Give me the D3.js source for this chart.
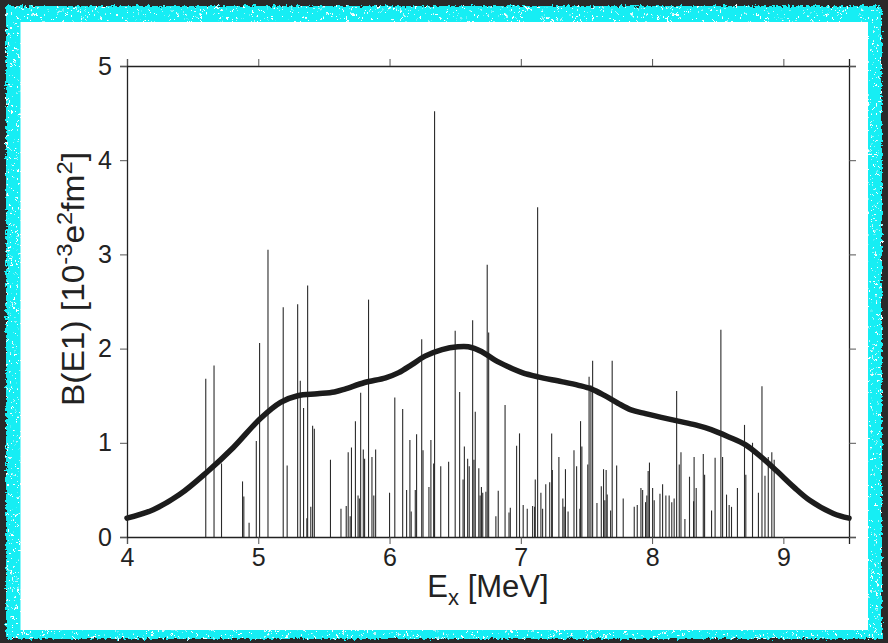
<!DOCTYPE html>
<html>
<head>
<meta charset="utf-8">
<script src="https://cdn.jsdelivr.net/npm/d3@7"></script>
<style>
  html, body { margin: 0; padding: 0; background: #2a2a2a; }
  svg { display: block; }
  text { font-family: "Liberation Sans", Arial, Helvetica, sans-serif; fill: #222; }
</style>
</head>
<body>
<svg id="chart" width="888" height="643"></svg>
<script>
// Transition energies (MeV) and reduced E1 strengths (10^-3 e^2 fm^2)
const energies = [
  4.600, 4.663, 4.720, 4.880, 4.890, 4.930, 4.985, 5.010, 5.074, 5.190,
  5.220, 5.300, 5.320, 5.345, 5.370, 5.376, 5.400, 5.414, 5.427, 5.550,
  5.630, 5.670, 5.685, 5.700, 5.710, 5.740, 5.760, 5.770, 5.780, 5.800,
  5.810, 5.840, 5.866, 5.880, 5.894, 6.000, 6.040, 6.100, 6.130, 6.155,
  6.165, 6.196, 6.206, 6.245, 6.255, 6.300, 6.315, 6.336, 6.343, 6.390,
  6.450, 6.500, 6.534, 6.560, 6.570, 6.595, 6.607, 6.633, 6.643, 6.653,
  6.680, 6.690, 6.700, 6.710, 6.734, 6.744, 6.755, 6.810, 6.828, 6.880,
  6.910, 6.920, 6.968, 6.990, 7.018, 7.049, 7.090, 7.105, 7.110, 7.128,
  7.153, 7.166, 7.190, 7.220, 7.235, 7.240, 7.290, 7.320, 7.330, 7.340,
  7.360, 7.405, 7.425, 7.450, 7.455, 7.465, 7.510, 7.520, 7.534, 7.547,
  7.580, 7.613, 7.630, 7.640, 7.650, 7.658, 7.684, 7.696, 7.730, 7.780,
  7.864, 7.887, 7.915, 7.928, 7.950, 7.960, 7.970, 7.980, 8.004, 8.016,
  8.060, 8.080, 8.105, 8.130, 8.150, 8.168, 8.187, 8.207, 8.220, 8.250,
  8.285, 8.316, 8.320, 8.336, 8.390, 8.400, 8.453, 8.480, 8.524, 8.537,
  8.567, 8.587, 8.605, 8.650, 8.704, 8.714, 8.765, 8.810, 8.837, 8.860,
  8.885, 8.912, 8.930
];
const strengths = [
  1.68, 1.82, 0.78, 0.59, 0.43, 0.15, 1.02, 2.06, 3.05, 2.44,
  0.76, 2.47, 1.66, 1.37, 0.20, 2.67, 0.32, 1.18, 1.15, 0.82,
  0.30, 0.33, 0.90, 0.22, 0.95, 1.23, 0.44, 0.41, 1.53, 0.93,
  0.83, 2.52, 0.85, 0.44, 0.93, 0.47, 1.48, 1.36, 0.50, 1.03,
  0.27, 0.50, 1.09, 2.10, 0.92, 0.53, 1.03, 0.78, 4.52, 0.75,
  0.80, 2.19, 1.54, 0.61, 0.96, 0.83, 0.75, 2.30, 0.82, 1.33,
  0.73, 0.44, 0.53, 0.47, 0.48, 2.89, 2.17, 0.22, 0.49, 1.40,
  0.26, 0.31, 0.97, 1.10, 0.34, 0.30, 0.33, 0.32, 0.61, 3.50,
  0.47, 0.30, 0.56, 0.58, 1.10, 0.71, 0.85, 0.41, 0.32, 0.72,
  0.27, 0.92, 0.75, 0.30, 1.23, 0.96, 0.77, 1.70, 1.61, 1.87,
  0.36, 0.54, 0.72, 0.39, 0.71, 0.45, 0.28, 1.87, 0.76, 0.41,
  0.32, 0.34, 0.52, 0.50, 0.37, 0.44, 0.70, 0.79, 0.52, 0.39,
  0.46, 0.56, 0.44, 0.44, 0.37, 0.41, 1.55, 0.77, 0.90, 0.19,
  0.64, 0.38, 0.85, 0.52, 0.88, 0.66, 0.28, 0.84, 2.20, 0.85,
  0.45, 0.34, 0.32, 0.52, 1.19, 0.66, 1.00, 0.47, 1.60, 0.65,
  0.85, 0.90, 0.82
];

// Smoothed strength envelope
const envE = [4.00, 4.20, 4.40, 4.61, 4.81, 5.01, 5.17, 5.30, 5.45, 5.58,
              5.66, 5.81, 5.97, 6.07, 6.17, 6.27, 6.40, 6.52, 6.60, 6.70,
              6.80, 6.90, 7.01, 7.13, 7.31, 7.44, 7.54, 7.64, 7.74, 7.84,
              7.95, 8.07, 8.20, 8.33, 8.45, 8.58, 8.71, 8.83, 8.95, 9.08,
              9.20, 9.38, 9.50];
const envB = [0.20, 0.29, 0.45, 0.69, 0.95, 1.25, 1.43, 1.50, 1.52, 1.54,
              1.57, 1.64, 1.69, 1.745, 1.83, 1.92, 1.99, 2.02, 2.02, 1.97,
              1.88, 1.81, 1.745, 1.70, 1.65, 1.61, 1.57, 1.50, 1.42, 1.35,
              1.31, 1.27, 1.23, 1.19, 1.14, 1.065, 0.98, 0.85, 0.70, 0.53,
              0.39, 0.25, 0.20];

const xTicks = [4, 5, 6, 7, 8, 9];
const yTicks = [0, 1, 2, 3, 4, 5];

const svg = d3.select("#chart");
const W = 888, H = 643;

// ---- frame: ragged cyan border on a dark ground ----
const defs = svg.append("defs");
const rough = defs.append("filter").attr("id", "rough")
  .attr("x", "-5%").attr("y", "-5%").attr("width", "110%").attr("height", "110%");
rough.append("feTurbulence").attr("type", "fractalNoise")
  .attr("baseFrequency", "0.3").attr("numOctaves", 2).attr("seed", 3).attr("result", "n");
rough.append("feDisplacementMap").attr("in", "SourceGraphic").attr("in2", "n")
  .attr("scale", 6).attr("xChannelSelector", "R").attr("yChannelSelector", "G");

const speck = defs.append("filter").attr("id", "speck")
  .attr("x", "0").attr("y", "0").attr("width", "100%").attr("height", "100%");
speck.append("feTurbulence").attr("type", "fractalNoise")
  .attr("baseFrequency", "0.8 0.3").attr("numOctaves", 2).attr("seed", 8).attr("result", "t");
speck.append("feColorMatrix").attr("in", "t").attr("type", "matrix")
  .attr("values", "0 0 0 0 1  0 0 0 0 1  0 0 0 0 1  0 0 0 16 -10.6").attr("result", "w");
speck.append("feComposite").attr("in", "w").attr("in2", "SourceGraphic").attr("operator", "in").attr("result", "wc");
speck.append("feMerge").selectAll("feMergeNode").data(["SourceGraphic", "wc"]).join("feMergeNode")
  .attr("in", d => d);

svg.append("rect").attr("width", W).attr("height", H).attr("fill", "#2a2a2a");
const frameG = svg.append("g").attr("filter", "url(#rough)");
frameG.append("rect").attr("x", 6).attr("y", 6).attr("width", W - 12).attr("height", H - 10)
  .attr("fill", "#14eef4").attr("filter", "url(#speck)");
svg.append("rect").attr("x", 20.5).attr("y", 22).attr("width", 847.5).attr("height", 608)
  .attr("fill", "#ffffff");

// ---- plot ----
const pLeft = 127, pRight = 849, pTop = 66, pBottom = 537;
const x = d3.scaleLinear().domain([4, 9.5]).range([pLeft, pRight]);
const y = d3.scaleLinear().domain([0, 5]).range([pBottom, pTop]);

const g = svg.append("g");

// stick spectrum
g.append("g").selectAll("line").data(energies).join("line")
  .attr("x1", d => x(d)).attr("x2", d => x(d))
  .attr("y1", y(0)).attr("y2", (d, i) => y(strengths[i]))
  .attr("stroke", "#2b2b2b").attr("stroke-width", 1.1);

// envelope
const line = d3.line().x((d, i) => x(envE[i])).y(d => y(d)).curve(d3.curveCatmullRom.alpha(0.5));
g.append("path").datum(envB).attr("d", line)
  .attr("fill", "none").attr("stroke", "#1c1c1c").attr("stroke-width", 5.5)
  .attr("stroke-linejoin", "round").attr("stroke-linecap", "round");

// axes (box with outward ticks on all sides)
const tickLen = 7;
const axB = g.append("g").attr("transform", `translate(0,${pBottom})`)
  .call(d3.axisBottom(x).tickValues(xTicks).tickFormat(d3.format("d")).tickSize(tickLen).tickPadding(4));
const axT = g.append("g").attr("transform", `translate(0,${pTop})`)
  .call(d3.axisTop(x).tickValues(xTicks).tickFormat("").tickSize(tickLen));
const axL = g.append("g").attr("transform", `translate(${pLeft},0)`)
  .call(d3.axisLeft(y).tickValues(yTicks).tickFormat(d3.format("d")).tickSize(tickLen).tickPadding(8));
const axR = g.append("g").attr("transform", `translate(${pRight},0)`)
  .call(d3.axisRight(y).tickValues(yTicks).tickFormat("").tickSize(tickLen));

[axB, axT, axL, axR].forEach(a => {
  a.select(".domain").attr("stroke", "#222").attr("stroke-width", 1.3);
  a.selectAll(".tick line").attr("stroke", "#555").attr("stroke-width", 1);
  a.selectAll(".tick text").attr("font-size", 25).attr("fill", "#222")
    .attr("font-family", '"Liberation Sans", Arial, sans-serif');
});

// axis titles
const xl = svg.append("text").attr("x", 488).attr("y", 597).attr("text-anchor", "middle")
  .attr("font-size", 31);
xl.append("tspan").text("E");
xl.append("tspan").attr("font-size", 22).attr("dy", 8).text("x");
xl.append("tspan").attr("dy", -8).text(" [MeV]");

const yl = svg.append("text").attr("transform", "translate(84,279) rotate(-90) scale(1.08,1)")
  .attr("text-anchor", "middle").attr("font-size", 31);
yl.append("tspan").text("B(E1) [10");
yl.append("tspan").attr("font-size", 22).attr("dy", -12).text("-3");
yl.append("tspan").attr("dy", 12).text("e");
yl.append("tspan").attr("font-size", 22).attr("dy", -12).text("2");
yl.append("tspan").attr("dy", 12).text("fm");
yl.append("tspan").attr("font-size", 22).attr("dy", -12).text("2");
yl.append("tspan").attr("dy", 12).text("]");
</script>
</body>
</html>
